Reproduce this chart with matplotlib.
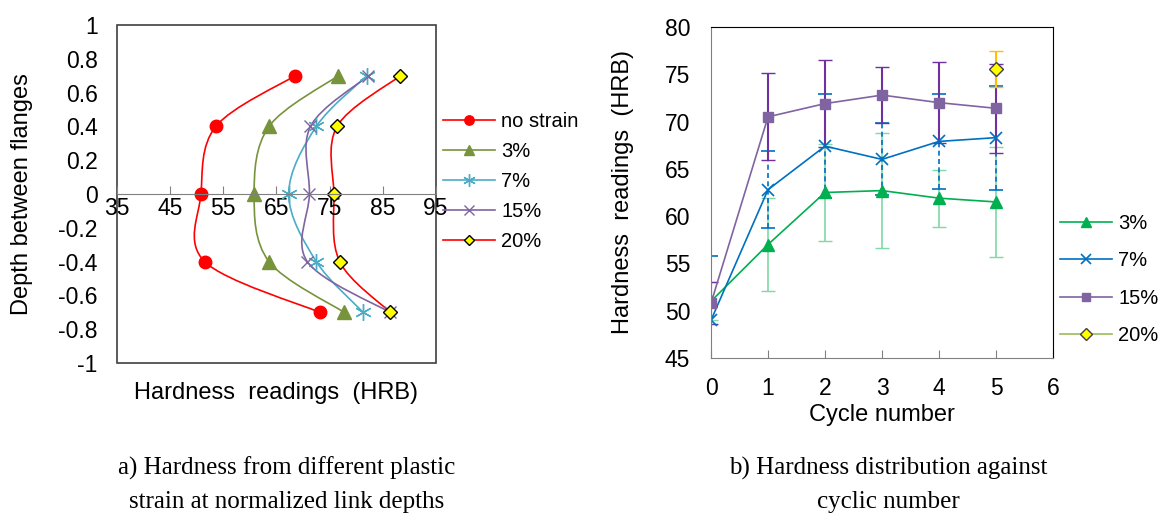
import matplotlib.pyplot as plt
import numpy as np
from matplotlib.path import Path
from matplotlib.patches import PathPatch, Rectangle
from matplotlib.lines import Line2D

# panel a) hardness vs normalized depth
depths = [0.7, 0.4, 0.0, -0.4, -0.7]
no_strain = [68.5, 53.6, 50.8, 51.5, 73.1]
strain_3 = [76.6, 63.6, 60.8, 63.6, 77.7]
strain_7 = [82.0, 72.5, 67.3, 72.5, 81.3]
strain_15 = [82.3, 71.4, 71.2, 70.8, 86.3]
strain_20 = [88.3, 76.4, 75.8, 76.9, 86.4]

# panel b) hardness vs cycle number
cycles = [0, 1, 2, 3, 4, 5]
cyc_3 = [51.0, 57.0, 62.5, 62.7, 61.9, 61.5]
err_3 = [2.0, 4.9, 5.1, 6.1, 3.0, 5.8]
cyc_7 = [49.0, 62.8, 67.4, 66.0, 67.9, 68.3]
err_7 = [6.8, 4.1, 5.5, 3.8, 5.0, 5.5]
cyc_15 = [50.8, 70.5, 71.9, 72.8, 72.0, 71.4]
err_15 = [2.2, 4.6, 4.6, 3.0, 4.3, 4.7]
cycles_20 = [5]
cyc_20 = [75.6]
err_20 = [1.9]


def smooth_path(xs, ys, sx, sy):
    """Excel-style smoothed line (Catmull-Rom as cubic Bezier)."""
    pts = np.column_stack([np.array(xs) / sx, np.array(ys) / sy])
    n = len(pts)
    verts = [pts[0]]
    codes = [Path.MOVETO]
    for i in range(n - 1):
        p0 = pts[max(i - 1, 0)]
        p1 = pts[i]
        p2 = pts[i + 1]
        p3 = pts[min(i + 2, n - 1)]
        verts += [p1 + (p2 - p0) / 6, p2 - (p3 - p1) / 6, p2]
        codes += [Path.CURVE4] * 3
    return Path(np.array(verts) * [sx, sy], codes)


plt.rcParams['font.family'] = ['Liberation Sans', 'DejaVu Sans']
TICK_FS = 16.5
LABEL_FS = 17
LEG_FS = 14.5
fig = plt.figure(figsize=(11.66, 5.18), dpi=100)

# ---------- left panel ----------
ax1 = fig.add_axes([0.1003, 0.2992, 0.2736, 0.6525])
series_a = [
    ('no strain', no_strain, '#FF0000', 'o', 9, '#FF0000', '#FF0000'),
    ('3%', strain_3, '#77933C', '^', 10, '#77933C', '#77933C'),
    ('7%', strain_7, '#4BACC6', (6, 2, 0), 12, '#4BACC6', '#4BACC6'),
    ('15%', strain_15, '#8064A2', 'x', 9, '#8064A2', '#8064A2'),
    ('20%', strain_20, '#FF0000', 'D', 7, '#FFFF00', '#000000'),
]
handles = []
for label, vals, col, mk, ms, mfc, mec in series_a:
    path = smooth_path(vals, depths, 60.0, 2.0)
    ax1.add_patch(PathPatch(path, fill=False, edgecolor=col, lw=1.2))
    ax1.plot(vals, depths, linestyle='none', marker=mk, ms=ms,
             mfc=mfc, mec=mec, mew=1.0)
    handles.append(Line2D([], [], color=col, lw=1.2, marker=mk,
                          ms=ms * 0.75, mfc=mfc, mec=mec, label=label))

ax1.set_xlim(35, 95)
ax1.set_ylim(-1, 1)
ax1.set_xticks(np.arange(35, 96, 10))
ax1.set_yticks(np.arange(-1, 1.01, 0.2))
ax1.set_yticklabels(['-1', '-0.8', '-0.6', '-0.4', '-0.2', '0', '0.2',
                     '0.4', '0.6', '0.8', '1'])
ax1.spines['bottom'].set_position(('data', 0))
ax1.spines['bottom'].set_color('#808080')
for s in ['top', 'right', 'left']:
    ax1.spines[s].set_visible(False)
ax1.add_patch(Rectangle((0, 0), 1, 1, transform=ax1.transAxes, fill=False,
                        edgecolor='#404040', lw=1.2, clip_on=False))
ax1.tick_params(axis='x', direction='in', length=6, color='#808080',
                labelsize=TICK_FS, pad=2)
ax1.tick_params(axis='y', length=0, labelsize=TICK_FS, pad=14)
ax1.set_ylabel('Depth between flanges', fontsize=LABEL_FS)
ax1.yaxis.set_label_coords(-0.263, 0.5)
ax1.text(0.5, -0.09, 'Hardness  readings  (HRB)', transform=ax1.transAxes,
         ha='center', va='center', fontsize=LABEL_FS)
ax1.legend(handles=handles, loc='center left',
           bbox_to_anchor=(1.022, 0.537), borderaxespad=0, borderpad=0,
           frameon=False, fontsize=LEG_FS, handlelength=2.6,
           labelspacing=0.55, handletextpad=0.3)

# ---------- right panel ----------
ax2 = fig.add_axes([0.6098, 0.3089, 0.2933, 0.639])
ax2.errorbar(cycles, cyc_3, yerr=err_3, color='#00B050', marker='^', ms=8,
             lw=1.2, ecolor='#7FD8A8', elinewidth=1.2, capsize=5)
eb7 = ax2.errorbar(cycles, cyc_7, yerr=err_7, color='#0070C0', marker='x',
                   ms=9, mew=1.2, lw=1.2, ecolor='#0070C0', elinewidth=1.2,
                   capsize=5)
eb7[2][0].set_linestyle((0, (3, 2)))
ax2.errorbar(cycles, cyc_15, yerr=err_15, color='#8064A2', marker='s', ms=7,
             lw=1.2, ecolor='#7030A0', elinewidth=1.5, capsize=5)
ax2.errorbar(cycles_20, cyc_20, yerr=err_20, color='#9BBB59', marker='D',
             ms=7, mfc='#FFFF00', mec='#404040', lw=1.2, ecolor='#FFC000',
             elinewidth=1.5, capsize=5)
handles_b = [
    Line2D([], [], color='#00B050', marker='^', ms=7, lw=1.2, label='3%'),
    Line2D([], [], color='#0070C0', marker='x', ms=7, mew=1.2, lw=1.2,
           label='7%'),
    Line2D([], [], color='#8064A2', marker='s', ms=6, lw=1.2, label='15%'),
    Line2D([], [], color='#9BBB59', marker='D', ms=6, mfc='#FFFF00',
           mec='#404040', lw=1.2, label='20%'),
]
ax2.set_xlim(0, 6)
ax2.set_ylim(45, 80)
ax2.set_xticks(range(0, 7))
ax2.set_yticks(range(45, 81, 5))
ax2.spines['left'].set_color('#808080')
ax2.spines['bottom'].set_color('#808080')
for s in ['top', 'right']:
    ax2.spines[s].set_color('#000000')
ax2.tick_params(axis='x', direction='in', length=6, color='#808080',
                labelsize=TICK_FS, pad=14)
ax2.tick_params(axis='y', length=0, labelsize=TICK_FS, pad=15)
ax2.set_xlabel('Cycle number', fontsize=LABEL_FS)
ax2.xaxis.set_label_coords(0.5, -0.14)
ax2.set_ylabel('Hardness  readings  (HRB)', fontsize=LABEL_FS)
ax2.yaxis.set_label_coords(-0.225, 0.5)
ax2.legend(handles=handles_b, loc='center left',
           bbox_to_anchor=(1.02, 0.237), borderaxespad=0, borderpad=0,
           frameon=False, fontsize=LEG_FS, handlelength=2.6,
           labelspacing=0.9, handletextpad=0.3)

# captions
cap_kw = dict(ha='center', va='center', fontsize=18,
              family=['Liberation Serif', 'DejaVu Serif'])
fig.text(287 / 1166, 1 - 468 / 518, 'a) Hardness from different plastic',
         **cap_kw)
fig.text(287 / 1166, 1 - 502 / 518, 'strain at normalized link depths',
         **cap_kw)
fig.text(888 / 1166, 1 - 468 / 518, 'b) Hardness distribution against',
         **cap_kw)
fig.text(888 / 1166, 1 - 502 / 518, 'cyclic number', **cap_kw)

fig.savefig('out.png', dpi=100)
